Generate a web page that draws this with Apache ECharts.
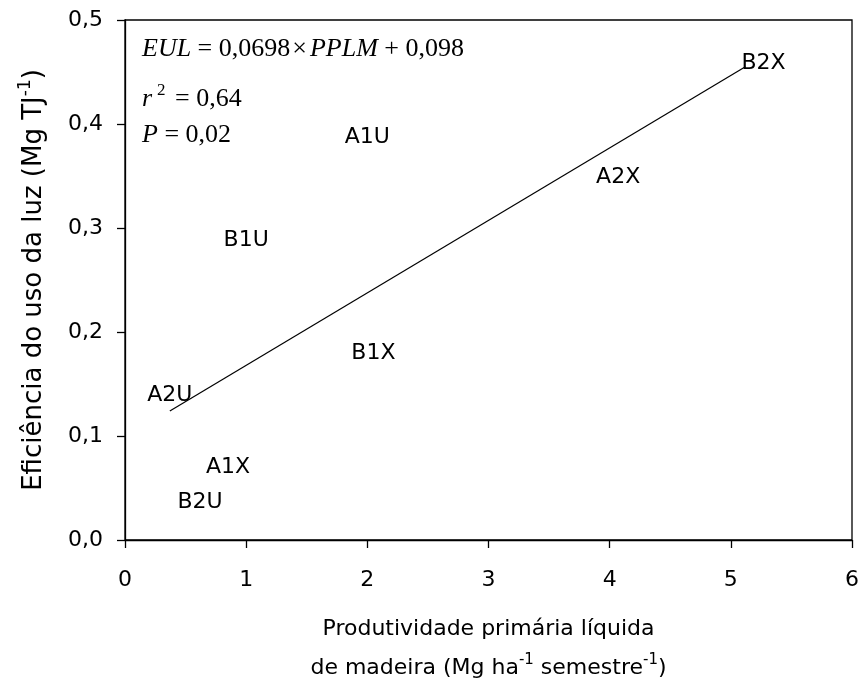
<!DOCTYPE html>
<html>
<head>
<meta charset="utf-8">
<script src="https://cdn.jsdelivr.net/npm/echarts@6/dist/echarts.min.js"></script>
<style>
html,body{margin:0;padding:0;background:#fff;}
#chart{width:860px;height:685px;}
</style>
</head>
<body>
<div id="chart"></div>
<script>
// Data
var pointNames = ['B2X','A1U','A2X','B1U','B1X','A2U','A1X','B2U'];
var pointX = [5.27, 2.00, 4.07, 1.00, 2.05, 0.37, 0.85, 0.62];
var pointY = [0.458, 0.387, 0.349, 0.288, 0.180, 0.139, 0.070, 0.036];
var regX = [0.37, 5.12];
var regY = [0.124, 0.455];
var xTicks = [0, 1, 2, 3, 4, 5, 6];
var yTicks = [0.0, 0.1, 0.2, 0.3, 0.4, 0.5];

var scatterData = pointNames.map(function (n, i) { return { name: n, value: [pointX[i], pointY[i]] }; });
var regData = regX.map(function (x, i) { return [x, regY[i]]; });

var SANS = '"DejaVu Sans", "Liberation Sans", Arial, sans-serif';
var SERIF = '"Liberation Serif", "Times New Roman", serif';

var chart = echarts.init(document.getElementById('chart'), null, { renderer: 'canvas' });
chart.setOption({
  backgroundColor: '#ffffff',
  animation: false,
  grid: { left: 125, right: 8, top: 20, bottom: 145, containLabel: false, outerBoundsMode: 'none',
    show: true, borderColor: '#000', borderWidth: 1.3, backgroundColor: 'transparent' },
  xAxis: {
    type: 'value', min: xTicks[0], max: xTicks[xTicks.length - 1], interval: 1,
    axisLine: { show: true, lineStyle: { color: '#000', width: 1.3 } },
    axisTick: { show: true, length: 8, inside: false, lineStyle: { color: '#000', width: 1.3 } },
    splitLine: { show: false },
    axisLabel: { color: '#000', fontFamily: SANS, fontSize: 22, margin: 29,
      formatter: function (v) { return String(v).replace('.', ','); } },
    name: '{t|Produtividade primária líquida}\n{t|de madeira (Mg ha}{s|-1}{t| semestre}{s|-1}{t|)}',
    nameLocation: 'middle', nameGap: 70,
    nameTextStyle: {
      rich: {
        t: { fontFamily: SANS, fontSize: 22, color: '#000', lineHeight: 39, verticalAlign: 'middle' },
        s: { fontFamily: SANS, fontSize: 15, color: '#000', lineHeight: 20, verticalAlign: 'middle', padding: [0, 0, 16, 0] }
      }
    }
  },
  yAxis: {
    type: 'value', min: yTicks[0], max: yTicks[yTicks.length - 1], interval: 0.1,
    axisLine: { show: true, lineStyle: { color: '#000', width: 1.3 } },
    axisTick: { show: true, length: 8, inside: false, lineStyle: { color: '#000', width: 1.3 } },
    splitLine: { show: false },
    axisLabel: { color: '#000', fontFamily: SANS, fontSize: 22, margin: 22,
      formatter: function (v) { return v.toFixed(1).replace('.', ','); } },
    name: '{t|Eficiência do uso da luz (Mg TJ}{s|-1}{t|)}',
    nameLocation: 'middle', nameGap: 76,
    nameTextStyle: {
      rich: {
        t: { fontFamily: SANS, fontSize: 26, color: '#000', verticalAlign: 'middle', lineHeight: 30 },
        s: { fontFamily: SANS, fontSize: 17, color: '#000', verticalAlign: 'middle', lineHeight: 18, padding: [0, 0, 17, 0] }
      }
    }
  },
  series: [
    {
      type: 'line', data: regData, symbol: 'none', silent: true,
      lineStyle: { color: '#000', width: 1.2 }
    },
    {
      type: 'scatter', data: scatterData, symbol: 'circle', symbolSize: 1,
      itemStyle: { color: '#ffffff', opacity: 1 },
      label: { show: true, position: 'inside', formatter: '{b}', color: '#000', opacity: 1, fontFamily: SANS, fontSize: 22 }
    }
  ],
  graphic: [
    {
      type: 'text', left: 142, top: 36,
      style: {
        text: '{i|EUL}{n| = 0,0698}{x|×}{i|PPLM}{n| + 0,098}',
        rich: {
          i: { fontFamily: SERIF, fontStyle: 'italic', fontSize: 26, fill: '#000' },
          n: { fontFamily: SERIF, fontSize: 26, fill: '#000' },
          x: { fontFamily: SERIF, fontSize: 26, fill: '#000', padding: [0, 3, 0, 2] }
        }
      }
    },
    {
      type: 'text', left: 142, top: 82,
      style: {
        text: '{i|r}{s|2}{n| = 0,64}',
        rich: {
          i: { fontFamily: SERIF, fontStyle: 'italic', fontSize: 26, fill: '#000', verticalAlign: 'bottom', lineHeight: 30 },
          s: { fontFamily: SERIF, fontSize: 17, fill: '#000', verticalAlign: 'top', lineHeight: 30, padding: [0, 3, 13, 5] },
          n: { fontFamily: SERIF, fontSize: 26, fill: '#000', verticalAlign: 'bottom', lineHeight: 30 }
        }
      }
    },
    {
      type: 'text', left: 142, top: 122,
      style: {
        text: '{i|P}{n| = 0,02}',
        rich: {
          i: { fontFamily: SERIF, fontStyle: 'italic', fontSize: 26, fill: '#000' },
          n: { fontFamily: SERIF, fontSize: 26, fill: '#000' }
        }
      }
    }
  ]
});
</script>
</body>
</html>
